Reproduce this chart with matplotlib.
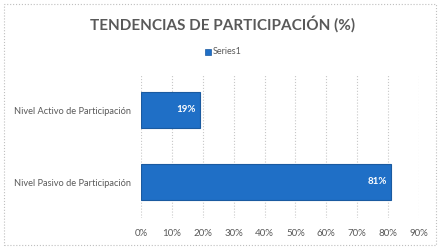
import matplotlib.pyplot as plt
from matplotlib.patches import Rectangle

categorias = ["Nivel Pasivo de Participación", "Nivel Activo de Participación"]
valores = [0.81, 0.19]
ticks = [0, 0.1, 0.2, 0.3, 0.4, 0.5, 0.6, 0.7, 0.8, 0.9]
etiquetas = ["0%", "10%", "20%", "30%", "40%", "50%", "60%", "70%", "80%", "90%"]

plt.rcParams['font.family'] = ['Lato', 'DejaVu Sans']

fig = plt.figure(figsize=(4.46, 2.5), dpi=100)
ax = fig.add_axes([141/446, 1-218/250, 278/446, 144/250])

barras = ax.barh(categorias, valores, height=0.5, color='#1f6fc6', edgecolor='#1a5aa0', linewidth=0.8, zorder=3)
for b, v in zip(barras, valores):
    ax.text(b.get_width() - 0.012, b.get_y() + b.get_height()/2, "{:.0%}".format(v),
            ha='right', va='center', color='white', fontsize=7, fontweight='bold', zorder=4)

ax.set_xlim(0, 0.9)
ax.set_ylim(-0.5, 1.5)
ax.set_xticks(ticks)
ax.set_xticklabels(etiquetas, fontsize=7, color='#595959')
ax.tick_params(axis='y', labelsize=6.7, labelcolor='#595959', length=0, pad=7)
ax.tick_params(axis='x', length=0, pad=8)
ax.grid(axis='x', color='#c8c8c8', linestyle=':', linewidth=0.8, zorder=0)
for s in ax.spines.values():
    s.set_visible(False)

fig.text(0.5, 1-24/250, "TENDENCIAS DE PARTICIPACIÓN (%)", ha='center', va='center',
         fontsize=11, fontweight='bold', color='#595959')
fig.patches.append(Rectangle((205/446, 1-55/250), 6/446, 6/250, transform=fig.transFigure,
                             facecolor='#1f6fc6', edgecolor='#1a5aa0', linewidth=0.5))
fig.text(213/446, 1-52/250, "Series1", ha='left', va='center', fontsize=6.5, color='#595959')

fig.patches.append(Rectangle((4/446, 5/250), 432/446, 241/250, transform=fig.transFigure,
                             fill=False, edgecolor='#bfbfbf', linestyle=':', linewidth=0.8))

fig.savefig("out.png", dpi=100)
